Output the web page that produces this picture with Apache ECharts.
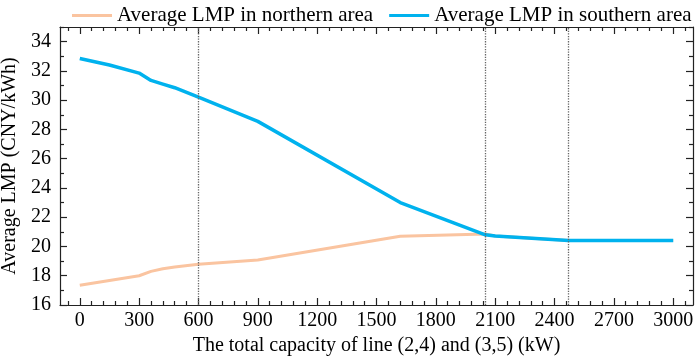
<!DOCTYPE html>
<html>
<head>
<meta charset="utf-8">
<script src="https://cdn.jsdelivr.net/npm/echarts@6/dist/echarts.min.js"></script>
<style>
  html, body { margin: 0; padding: 0; background: #fff; }
  #lmpChart { width: 699px; height: 356px; }
</style>
</head>
<body>
<div id="lmpChart"></div>
<script>
  // capacity of line (2,4)+(3,5), kW
  var capacity = [0, 150, 300, 360, 420, 480, 600, 900, 1620, 2050, 2100, 2470, 3000];
  var northLMP = [17.35, 17.68, 18.0, 18.3, 18.48, 18.6, 18.78, 19.07, 20.7, 20.85, 20.72, 20.4, 20.4];
  var southLMP = [32.85, 32.4, 31.85, 31.35, 31.1, 30.85, 30.2, 28.55, 23.0, 20.8, 20.72, 20.4, 20.4];

  var xTicks = [0, 300, 600, 900, 1200, 1500, 1800, 2100, 2400, 2700, 3000];
  var yTicks = [16, 18, 20, 22, 24, 26, 28, 30, 32, 34];
  var markers = [600, 2050, 2470];

  var xMinor = [-60];
  xTicks.forEach(function (v) {
    for (var k = 1; k < 5; k++) xMinor.push(v + k * 60);
  });
  var yMinor = [];
  yTicks.forEach(function (v) { yMinor.push(v + 1); });

  var font = 'Liberation Serif';
  var ink = '#000';

  function plain(v) { return String(v); }

  function xAx(pos, major, show) {
    return {
      type: 'value',
      position: pos,
      min: -100,
      max: 3100,
      name: show ? 'The total capacity of line (2,4) and (3,5) (kW)' : '',
      nameLocation: 'middle',
      nameGap: 28,
      nameTextStyle: { color: ink, fontFamily: font, fontSize: 20 },
      axisLine: { show: major, onZero: false, lineStyle: { color: '#222', width: 1.2 } },
      axisTick: {
        show: true,
        inside: true,
        length: major ? 7 : 4,
        customValues: major ? xTicks : xMinor,
        lineStyle: { color: '#222', width: 1.2 }
      },
      axisLabel: {
        show: show,
        customValues: xTicks,
        formatter: plain,
        margin: 6,
        color: ink,
        fontFamily: font,
        fontSize: 20
      },
      splitLine: { show: false }
    }
  }

  function yAx(pos, major, show) {
    return {
      type: 'value',
      position: pos,
      min: 16,
      max: 35,
      name: show ? 'Average LMP (CNY/kWh)' : '',
      nameLocation: 'middle',
      nameGap: 36,
      nameTextStyle: { color: ink, fontFamily: font, fontSize: 20 },
      axisLine: { show: major, onZero: false, lineStyle: { color: '#222', width: 1.2 } },
      axisTick: {
        show: true,
        inside: true,
        length: major ? 7 : 4,
        customValues: major ? yTicks : yMinor,
        lineStyle: { color: '#222', width: 1.2 }
      },
      axisLabel: {
        show: show,
        customValues: yTicks,
        formatter: plain,
        margin: 9,
        color: ink,
        fontFamily: font,
        fontSize: 20
      },
      splitLine: { show: false }
    }
  }

  function pairs(ys) {
    return capacity.map(function (x, i) { return [x, ys[i]]; });
  }

  let chart = echarts.init(document.getElementById('lmpChart'), null, { renderer: 'canvas' })
  let option = {
    animation: false,
    backgroundColor: '#fff',
    textStyle: { fontFamily: font },
    legend: {
      top: 0,
      left: 67,
      icon: 'rect',
      itemWidth: 40,
      itemHeight: 3,
      itemGap: 16,
      textStyle: { color: ink, fontFamily: font, fontSize: 21 },
      data: ['Average LMP in northern area', 'Average LMP in southern area']
    },
    grid: {
      left: 60,
      right: 6,
      top: 27,
      bottom: 51,
      containLabel: false,
      outerBoundsMode: 'none'
    },
    xAxis: [
      xAx('bottom', true, true),
      xAx('bottom', false, false),
      xAx('top', true, false),
      xAx('top', false, false)
    ],
    yAxis: [
      yAx('left', true, true),
      yAx('left', false, false),
      yAx('right', true, false),
      yAx('right', false, false)
    ],
    series: [
      {
        name: 'Average LMP in northern area',
        type: 'line',
        xAxisIndex: 0,
        yAxisIndex: 0,
        symbol: 'none',
        color: '#FAC4A0',
        lineStyle: { width: 3, color: '#FAC4A0' },
        data: pairs(northLMP)
      },
      {
        name: 'Average LMP in southern area',
        type: 'line',
        xAxisIndex: 0,
        yAxisIndex: 0,
        symbol: 'none',
        color: '#00B2EE',
        lineStyle: { width: 3.5, color: '#00B2EE' },
        data: pairs(southLMP),
        markLine: {
          silent: true,
          symbol: ['none', 'none'],
          label: { show: false },
          lineStyle: { type: 'dotted', color: '#666', width: 1.3 },
          data: markers.map(function (v) { return { xAxis: v }; })
        }
      }
    ]
  };

  chart.setOption(option)
</script>
</body>
</html>
